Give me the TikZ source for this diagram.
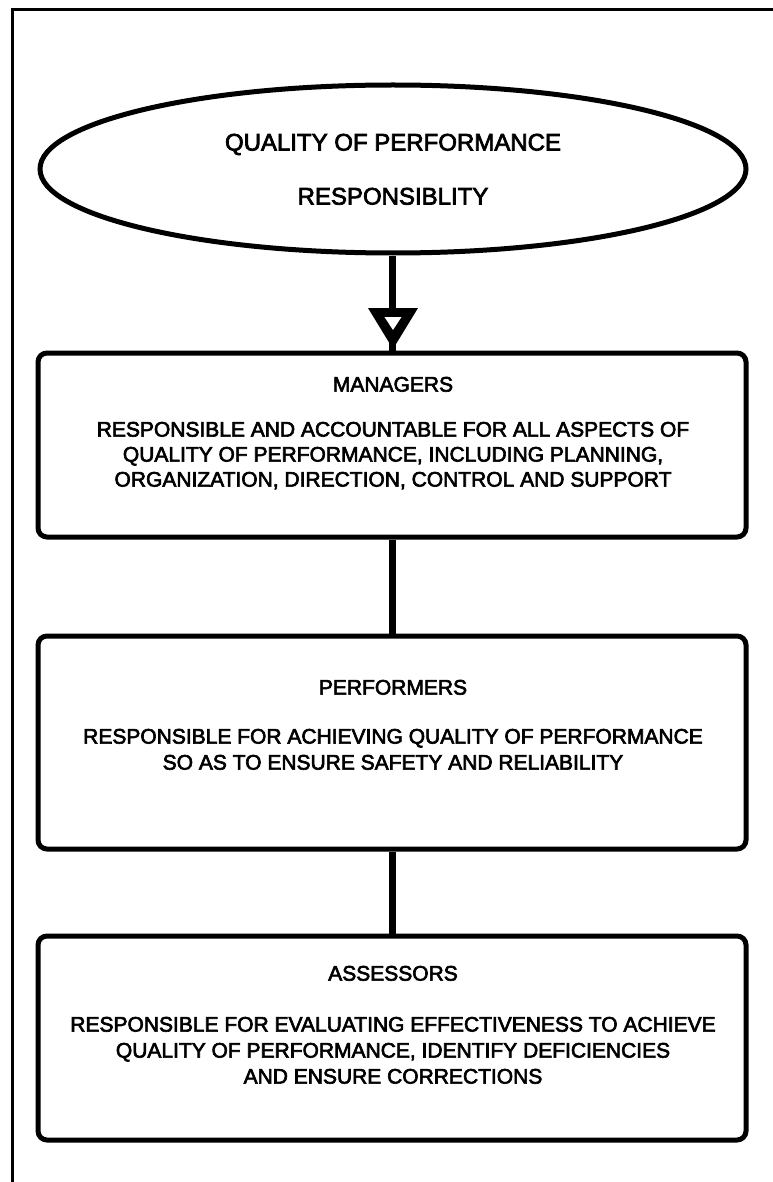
\documentclass[tikz,border=0pt]{standalone}
\usepackage{fontspec}
\setmainfont[BoldFont=Liberation Sans, BoldFeatures={FakeBold=3}]{Liberation Sans}
\usetikzlibrary{shapes.geometric}
\tikzset{
  frameline/.style={line width=3pt, line cap=rect},
  bubble/.style={draw, ellipse, line width=5pt, minimum width=706pt, minimum height=168pt, inner sep=0pt},
  panel/.style={draw, rectangle, rounded corners=9pt, line width=5pt, minimum width=708pt, inner sep=0pt},
  conn/.style={line width=7pt},
  txt/.style={inner sep=0pt, text height=0.716em, text depth=0pt, font=\fontsize{21}{26}\selectfont\bfseries},
  bigtxt/.style={inner sep=0pt, text height=0.716em, text depth=0pt, font=\fontsize{24}{30}\selectfont\bfseries}
}
\begin{document}
\begin{tikzpicture}[x=1pt,y=-1pt]
\useasboundingbox (0,0) rectangle (772,1182);
\fill[white] (0,0) rectangle (772,1182);
% frame
\coordinate (fr1) at (772,10);
\coordinate (fr2) at (12,10);
\coordinate (fr3) at (12,1182);
\draw[frameline] (fr1) -- (fr2) -- (fr3);
% ellipse
\node[bubble] (ell) at (393,169) {};
\node[bigtxt] (e1) at (393,147) {QUALITY OF PERFORMANCE};
\node[bigtxt] (e2) at (393,201) {RESPONSIBLITY};
% boxes
\node[panel, minimum height=184pt] (mgr) at (392,445) {};
\node[panel, minimum height=213pt] (perf) at (392,742.5) {};
\node[panel, minimum height=204pt] (ass) at (392,1038) {};
% managers text
\node[txt] (m0) at (393,388) {MANAGERS};
\node[txt] (m1) at (393,433) {RESPONSIBLE AND ACCOUNTABLE FOR ALL ASPECTS OF};
\node[txt] (m2) at (393,458) {QUALITY OF PERFORMANCE, INCLUDING PLANNING,};
\node[txt] (m3) at (393,483) {ORGANIZATION, DIRECTION, CONTROL AND SUPPORT};
% performers text
\node[txt] (p0) at (393,691) {PERFORMERS};
\node[txt] (p1) at (393,740) {RESPONSIBLE FOR ACHIEVING QUALITY OF PERFORMANCE};
\node[txt] (p2) at (393,766) {SO AS TO ENSURE SAFETY AND RELIABILITY};
% assessors text
\node[txt] (a0) at (393,977) {ASSESSORS};
\node[txt] (a1) at (393,1028) {RESPONSIBLE FOR EVALUATING EFFECTIVENESS TO ACHIEVE};
\node[txt] (a2) at (393,1054) {QUALITY OF PERFORMANCE, IDENTIFY DEFICIENCIES};
\node[txt] (a3) at (393,1080) {AND ENSURE CORRECTIONS};
% connectors
\draw[conn] (ell.south -| mgr.north) -- (mgr.north);
\fill[black] (368,308) -- (418,308) -- (393,349) -- cycle;
\fill[white] (384.5,317) -- (401.5,317) -- (393,330) -- cycle;
\draw[conn] (mgr.south) -- (perf.north);
\draw[conn] (perf.south) -- (ass.north);
\end{tikzpicture}
\end{document}
